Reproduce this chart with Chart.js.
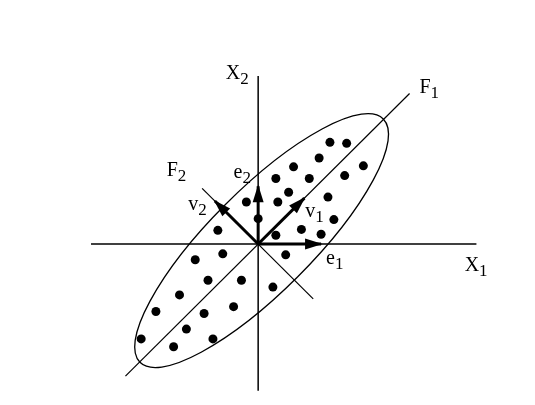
<!DOCTYPE html>
<html lang="en">
<head>
<meta charset="UTF-8">
<title>PCA axes</title>
<script src="https://cdn.jsdelivr.net/npm/chart.js"></script>
<style>
  html, body { margin: 0; padding: 0; background: #fff; }
  #wrap { width: 535px; height: 405px; }
</style>
</head>
<body>
<div id="wrap"><canvas id="pca" width="535" height="405"></canvas></div>
<script>
// observations, origin where X1 and X2 cross
const dotsX = [7.3, 9.0, 6.2, 3.6, 10.7, 1.8, 5.2, 8.8, 3.1, 2.0, 7.1, 7.7, 4.4, 6.4, 1.8, 0.0,
               -1.2, -4.1, 2.8, 1.5, -6.4, -3.6, -5.1, -1.7, -8.0, -10.4, -2.5, -5.5, -7.3, -11.9, -4.6, -8.6];
const dotsY = [10.4, 10.3, 8.8, 7.9, 8.0, 6.7, 6.7, 7.0, 5.3, 4.3, 4.8, 2.5, 1.5, 1.0, 0.9, 2.6,
               4.3, 1.4, -1.1, -4.4, -1.6, -1.0, -3.7, -3.7, -5.2, -6.9, -6.4, -7.1, -8.7, -9.7, -9.7, -10.5];

// ends of the axes and factor lines
const axisX1 = [-17.0, 22.2];
const axisX2 = [-15.0, 17.2];
const lineF1 = [-13.5, 15.4];   // on the diagonal y = x
const lineF2 = [-5.7, 5.6];     // on the diagonal y = -x

// arrow tips from the origin
const tipE1 = [6.4, 0];
const tipE2 = [0, 5.9];
const tipV1 = [4.7, 4.7];
const tipV2 = [-4.4, 4.4];

// ellipse: centre x, centre y, semi-major, semi-minor, angle in degrees
const ellipse = [0.35, 0.35, 17.5, 5.2, 45];

// labels: letter, subscript, anchor (left, baseline)
const labelMain = ['X', 'X', 'F', 'F', 'e', 'e', 'v', 'v'];
const labelSub  = ['1', '2', '1', '2', '1', '2', '1', '2'];
const labelX = [21.0, -3.3, 16.4, -9.3, 6.9, -2.5, 4.8, -7.1];
const labelY = [-2.8, 16.9, 15.4, 7.0, -2.0, 6.8, 2.8, 3.5];

function seg(a, b) { return [{ x: a[0], y: a[1] }, { x: b[0], y: b[1] }]; }
function lineSet(data, width) {
    return { data: data, showLine: true, borderColor: '#000', borderWidth: width,
             pointRadius: 0, fill: false, tension: 0 };
}
function arrowSet(tip) {
    let d = lineSet(seg([0, 0], tip), 3);
    d.arrow = true;
    return d;
}

const ellipsePlugin = {
    id: 'ellipse',
    beforeDatasetsDraw(chart) {
        const sx = chart.scales.x, sy = chart.scales.y, ctx = chart.ctx;
        const cx = sx.getPixelForValue(ellipse[0]), cy = sy.getPixelForValue(ellipse[1]);
        const rx = sx.getPixelForValue(ellipse[2]) - sx.getPixelForValue(0);
        const ry = sx.getPixelForValue(ellipse[3]) - sx.getPixelForValue(0);
        ctx.save();
        ctx.beginPath();
        ctx.ellipse(cx, cy, rx, ry, -ellipse[4] * Math.PI / 180, 0, Math.PI * 2);
        ctx.strokeStyle = '#000';
        ctx.lineWidth = 1.3;
        ctx.stroke();
        ctx.restore();
    }
};

const arrowPlugin = {
    id: 'arrows',
    afterDatasetsDraw(chart) {
        const ctx = chart.ctx;
        chart.data.datasets.forEach((ds, i) => {
            if (!ds.arrow) return;
            const pts = chart.getDatasetMeta(i).data;
            const p0 = pts[0], p1 = pts[pts.length - 1];
            const ang = Math.atan2(p1.y - p0.y, p1.x - p0.x);
            const len = 16, half = 5.5;
            const bx = p1.x - len * Math.cos(ang), by = p1.y - len * Math.sin(ang);
            ctx.save();
            ctx.beginPath();
            ctx.moveTo(p1.x + 1.5 * Math.cos(ang), p1.y + 1.5 * Math.sin(ang));
            ctx.lineTo(bx - half * Math.sin(ang), by + half * Math.cos(ang));
            ctx.lineTo(bx + half * Math.sin(ang), by - half * Math.cos(ang));
            ctx.closePath();
            ctx.fillStyle = '#000';
            ctx.fill();
            ctx.restore();
        });
    }
};

const labelPlugin = {
    id: 'labels',
    afterDatasetsDraw(chart) {
        const sx = chart.scales.x, sy = chart.scales.y, ctx = chart.ctx;
        ctx.save();
        ctx.fillStyle = '#000';
        ctx.textBaseline = 'alphabetic';
        labelMain.forEach((t, i) => {
            const x = sx.getPixelForValue(labelX[i]), y = sy.getPixelForValue(labelY[i]);
            ctx.font = '20px "Liberation Serif", "DejaVu Serif", serif';
            ctx.fillText(t, x, y);
            const w = ctx.measureText(t).width;
            ctx.font = '17px "Liberation Serif", "DejaVu Serif", serif';
            ctx.fillText(labelSub[i], x + w, y + 5);
        });
        ctx.restore();
    }
};

const dots = dotsX.map((x, i) => ({ x: x, y: dotsY[i] }));

new Chart(document.getElementById('pca'), {
    type: 'scatter',
    data: {
        datasets: [
            lineSet(seg([axisX1[0], 0], [axisX1[1], 0]), 1.5),
            lineSet(seg([0, axisX2[0]], [0, axisX2[1]]), 1.5),
            lineSet(seg([lineF1[0], lineF1[0]], [lineF1[1], lineF1[1]]), 1.2),
            lineSet(seg([lineF2[0], -lineF2[0]], [lineF2[1], -lineF2[1]]), 1.2),
            { data: dots, pointRadius: 4.5, pointBackgroundColor: '#000', pointBorderWidth: 0,
              borderColor: '#000', showLine: false },
            arrowSet(tipE1),
            arrowSet(tipE2),
            arrowSet(tipV1),
            arrowSet(tipV2)
        ]
    },
    options: {
        responsive: false,
        animation: false,
        layout: { padding: 0 },
        scales: {
            x: { type: 'linear', min: -25.8, max: 27.7, display: false },
            y: { type: 'linear', min: -16.0, max: 24.5, display: false }
        },
        plugins: { legend: { display: false }, tooltip: { enabled: false } }
    },
    plugins: [ellipsePlugin, arrowPlugin, labelPlugin]
});
</script>
</body>
</html>
